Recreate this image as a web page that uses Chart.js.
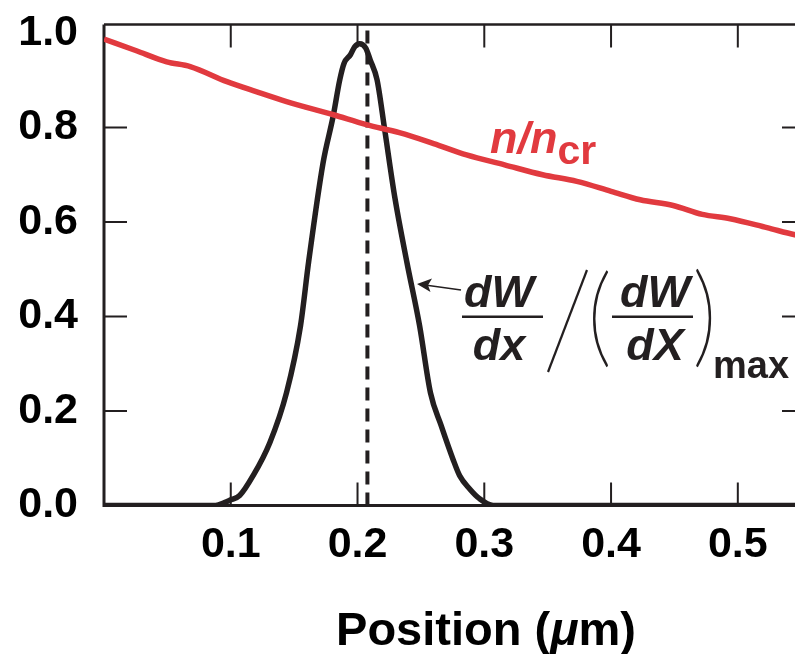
<!DOCTYPE html>
<html><head><meta charset="utf-8">
<script src="https://cdn.jsdelivr.net/npm/chart.js@4.4.1/dist/chart.umd.min.js"></script>
<style>
html,body{margin:0;padding:0;background:#fff;overflow:hidden;width:795px;height:654px}
#wrap{width:795px;height:654px;overflow:hidden;position:relative;background:#fff}
canvas{display:block}
</style></head>
<body><div id="wrap"><canvas id="c" width="830" height="654"></canvas></div>
<script>
// ---- data ----
const xTickValues = [0.1, 0.2, 0.3, 0.4, 0.5];
const yTickValues = [0.0, 0.2, 0.4, 0.6, 0.8, 1.0];

// n / n_cr (red)
const densityX = [0, 0.025, 0.0495, 0.068, 0.097, 0.12, 0.144, 0.181, 0.207, 0.233, 0.26, 0.286, 0.316, 0.346, 0.373, 0.40, 0.423, 0.449, 0.472, 0.494, 0.523, 0.545, 0.556];
const densityY = [0.987, 0.963, 0.939, 0.929, 0.897, 0.876, 0.855, 0.827, 0.806, 0.789, 0.766, 0.742, 0.721, 0.700, 0.686, 0.665, 0.647, 0.635, 0.616, 0.607, 0.588, 0.573, 0.567];

// (dW/dx)/(dW/dX)max (black)
const depositX = [0, 0.05, 0.088, 0.095, 0.1, 0.107, 0.1176, 0.1308, 0.144, 0.155, 0.1615, 0.1728, 0.1807, 0.186, 0.1894, 0.1944, 0.1978, 0.2017, 0.2065, 0.210, 0.2154, 0.2214, 0.2293, 0.239, 0.249, 0.2575, 0.266, 0.2753, 0.2806, 0.2885, 0.296, 0.307, 0.4, 0.556];
const depositY = [0, 0, 0, 0.006, 0.012, 0.021, 0.063, 0.133, 0.239, 0.380, 0.517, 0.725, 0.823, 0.901, 0.936, 0.954, 0.971, 0.977, 0.968, 0.943, 0.901, 0.796, 0.654, 0.514, 0.380, 0.239, 0.169, 0.098, 0.063, 0.035, 0.015, 0, 0, 0];

// dashed marker at the peak
const peakLineX = [0.2078, 0.2078];
const peakLineY = [0, 1.018];

// ---- styling ----
const INK = '#231f20';
const RED = '#e13a3f';
const FONT = "'Liberation Sans', Arial, Helvetica, sans-serif";
const pts = (xs, ys) => xs.map((x, i) => ({ x: x, y: ys[i] }));

function fitGlyph(ctx, ch, font, left, top, width, height, extra) {
  ctx.save();
  ctx.font = font;
  ctx.textAlign = 'left';
  ctx.textBaseline = 'alphabetic';
  const m = ctx.measureText(ch);
  const inkL = -m.actualBoundingBoxLeft, inkR = m.actualBoundingBoxRight;
  const asc = m.actualBoundingBoxAscent, desc = m.actualBoundingBoxDescent;
  const sx = width / Math.max(1, inkR - inkL);
  const sy = height / Math.max(1, asc + desc);
  ctx.translate(left - inkL * sx, top + asc * sy);
  ctx.scale(sx, sy);
  ctx.fillText(ch, 0, 0);
  if (extra) { ctx.lineWidth = extra / sx; ctx.strokeText(ch, 0, 0); }
  ctx.restore();
}

const framePlugin = {
  id: 'frame',
  beforeDatasetsDraw(chart) {
    const { ctx, chartArea: a, scales: { x, y } } = chart;
    ctx.save();
    ctx.strokeStyle = INK;
    ctx.lineCap = 'butt';
    ctx.lineWidth = 3;
    ctx.beginPath();
    ctx.moveTo(a.left, a.top); ctx.lineTo(a.left, a.bottom); ctx.lineTo(a.right, a.bottom);
    ctx.stroke();
    ctx.lineWidth = 2.5;
    ctx.beginPath();
    ctx.moveTo(a.left, a.top); ctx.lineTo(a.right, a.top); ctx.lineTo(a.right, a.bottom);
    ctx.stroke();
    const TL = 23;
    ctx.lineWidth = 2;
    ctx.beginPath();
    xTickValues.forEach(v => {
      const px = x.getPixelForValue(v);
      ctx.moveTo(px, a.bottom); ctx.lineTo(px, a.bottom - TL);
      ctx.moveTo(px, a.top); ctx.lineTo(px, a.top + TL);
    });
    yTickValues.filter(v => v > 0 && v < 1).forEach(v => {
      const py = y.getPixelForValue(v);
      ctx.moveTo(a.left, py); ctx.lineTo(a.left + TL, py);
      ctx.moveTo(a.right, py); ctx.lineTo(a.right - TL, py);
    });
    ctx.stroke();
    ctx.restore();
  },
  afterDraw(chart) {
    const ctx = chart.ctx;
    ctx.save();
    ctx.textBaseline = 'alphabetic';
    // x axis title
    const segs = [
      { t: 'Position (', f: "bold 47px " + FONT },
      { t: '\u03bc', f: "italic bold 47px " + FONT },
      { t: 'm)', f: "bold 47px " + FONT }
    ];
    let total = 0;
    segs.forEach(s => { ctx.font = s.f; s.w = ctx.measureText(s.t).width; total += s.w; });
    let cx = 486 - total / 2;
    ctx.fillStyle = '#000';
    segs.forEach(s => { ctx.font = s.f; ctx.textAlign = 'left'; ctx.fillText(s.t, cx, 645); cx += s.w; });

    // n/n_cr label
    ctx.fillStyle = RED;
    ctx.font = "italic bold 45px " + FONT;
    ctx.textAlign = 'left';
    ctx.fillText('n/n', 490, 153);
    const w1 = ctx.measureText('n/n').width;
    ctx.font = "bold 41px " + FONT;
    ctx.fillText('cr', 490 + w1, 164);

    // fraction label
    ctx.fillStyle = INK;
    ctx.strokeStyle = INK;
    ctx.font = "italic bold 45px " + FONT;
    ctx.textAlign = 'center';
    ctx.fillText('dW', 499, 307);
    ctx.fillText('dx', 499, 360);
    ctx.fillText('dW', 655, 307);
    ctx.fillText('dX', 655, 360);
    ctx.lineWidth = 2.5;
    ctx.beginPath();
    ctx.moveTo(462, 316.7); ctx.lineTo(543, 316.7);
    ctx.moveTo(612, 316.7); ctx.lineTo(693, 316.7);
    ctx.stroke();
    ctx.lineWidth = 2.2;
    ctx.beginPath();
    ctx.moveTo(587, 270); ctx.lineTo(548, 372);
    ctx.stroke();
    // tall thin parentheses
    const pf = "200 44px Lato, " + FONT;
    fitGlyph(ctx, '(', pf, 592, 269, 17, 99, 1.4);
    fitGlyph(ctx, ')', pf, 695, 268, 17, 100, 1.4);
    ctx.font = "bold 38px " + FONT;
    ctx.textAlign = 'left';
    ctx.fillText('max', 713, 378);

    // arrow
    ctx.lineWidth = 1.5;
    ctx.beginPath();
    ctx.moveTo(461, 290); ctx.lineTo(425, 285);
    ctx.stroke();
    ctx.beginPath();
    ctx.moveTo(417, 284);
    ctx.lineTo(432, 278.5);
    ctx.lineTo(428, 285.3);
    ctx.lineTo(430.5, 292);
    ctx.closePath();
    ctx.fill();
    ctx.restore();
  }
};

new Chart(document.getElementById('c').getContext('2d'), {
  type: 'scatter',
  data: {
    datasets: [
      { data: pts(densityX, densityY), showLine: true, borderColor: RED, borderWidth: 5.5, pointRadius: 0, cubicInterpolationMode: 'monotone' },
      { data: pts(depositX, depositY), showLine: true, borderColor: INK, borderWidth: 5.5, pointRadius: 0, cubicInterpolationMode: 'monotone' },
      { data: pts(peakLineX, peakLineY), showLine: true, borderColor: INK, borderWidth: 4, borderDash: [13, 8], pointRadius: 0 }
    ]
  },
  options: {
    responsive: false,
    animation: false,
    devicePixelRatio: 1,
    layout: { padding: { left: 0, top: 24.5, right: 25, bottom: 0 } },
    plugins: { legend: { display: false }, tooltip: { enabled: false } },
    scales: {
      x: {
        type: 'linear', min: 0, max: 0.553,
        grid: { display: false, drawTicks: false },
        border: { display: false },
        afterBuildTicks: s => { s.ticks = xTickValues.map(v => ({ value: v })); },
        afterFit: s => { s.height = 148.5; s.paddingLeft = 0; s.paddingRight = 0; },
        ticks: { padding: 14, color: '#000', autoSkip: false, maxRotation: 0,
          font: { family: FONT, size: 43, weight: 'bold' },
          callback: v => Number(v).toFixed(1) }
      },
      y: {
        type: 'linear', min: 0, max: 1.018,
        grid: { display: false, drawTicks: false },
        border: { display: false },
        afterBuildTicks: s => { s.ticks = yTickValues.map(v => ({ value: v })); },
        afterFit: s => { s.width = 104; s.paddingTop = 0; s.paddingBottom = 0; },
        ticks: { padding: 26, color: '#000',
          font: { family: FONT, size: 43, weight: 'bold' },
          callback: v => Number(v).toFixed(1) }
      }
    }
  },
  plugins: [framePlugin]
});
</script>
</body></html>
